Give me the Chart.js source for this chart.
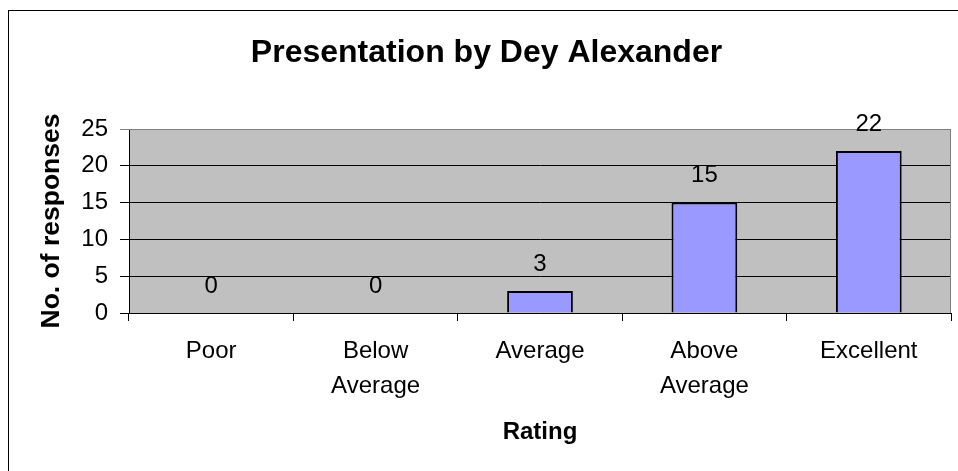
<!DOCTYPE html>
<html>
<head>
<meta charset="utf-8">
<script src="https://cdn.jsdelivr.net/npm/chart.js@4/dist/chart.umd.min.js"></script>
<style>
  html, body { margin: 0; padding: 0; background: #fff; overflow: hidden; }
  #wrap { position: relative; width: 958px; height: 471px; }
  #frame { position: absolute; left: 8px; top: 10px; width: 2000px; height: 2000px; border-left: 1px solid #000; border-top: 1px solid #000; }
  canvas { position: absolute; left: 0; top: 0; }
</style>
</head>
<body>
<div id="wrap">
  <div id="frame"></div>
  <canvas id="c" width="958" height="471"></canvas>
</div>
<script>
const titleText = 'Presentation by Dey Alexander';
const categories = ['Poor', ['Below', 'Average'], 'Average', ['Above', 'Average'], 'Excellent'];
const responses = [0, 0, 3, 15, 22];
const yTicks = [0, 5, 10, 15, 20, 25];
const xTitle = 'Rating';
const yTitle = 'No. of responses';

const FONT = "'Liberation Sans', Arial, Helvetica, sans-serif";

const plotBg = {
  id: 'plotBg',
  beforeDraw(chart) {
    const {ctx, chartArea: a} = chart;
    ctx.save();
    ctx.fillStyle = '#C0C0C0';
    ctx.fillRect(a.left, a.top, a.right - a.left, a.bottom - a.top);
    ctx.restore();
  },
  afterDatasetsDraw(chart) {
    const {ctx, chartArea: a} = chart;
    ctx.save();
    ctx.strokeStyle = '#808080';
    ctx.lineWidth = 1;
    ctx.beginPath();
    ctx.moveTo(a.left, a.top + 0.5);
    ctx.lineTo(a.right - 0.5, a.top + 0.5);
    ctx.lineTo(a.right - 0.5, a.bottom);
    ctx.stroke();
    // value labels
    const meta = chart.getDatasetMeta(0);
    ctx.fillStyle = '#000';
    ctx.font = '24px ' + FONT;
    ctx.textAlign = 'center';
    ctx.textBaseline = 'middle';
    meta.data.forEach((bar, i) => {
      ctx.fillText(String(responses[i]), bar.x, bar.y - 27);
    });
    ctx.restore();
  }
};

new Chart(document.getElementById('c'), {
  type: 'bar',
  data: {
    labels: categories,
    datasets: [{
      data: responses,
      backgroundColor: '#9999FF',
      borderColor: '#000000',
      borderWidth: 2,
      categoryPercentage: 1.0,
      barPercentage: 0.4
    }]
  },
  options: {
    responsive: false,
    animation: false,
    events: [],
    layout: { padding: { left: 22, right: 7, top: 0, bottom: 0 } },
    plugins: {
      legend: { display: false },
      tooltip: { enabled: false },
      title: {
        display: true,
        text: titleText,
        color: '#000',
        font: { family: FONT, size: 32, weight: 'bold', lineHeight: 1.2 },
        padding: { top: 34, bottom: 56.6 }
      }
    },
    scales: {
      x: {
        offset: true,
        grid: { offset: true, drawOnChartArea: false, drawTicks: true, tickLength: 8, color: '#000', lineWidth: 1 },
        border: { display: true, color: '#000', width: 1 },
        ticks: { color: '#000', font: { family: FONT, size: 24, lineHeight: 1.45 }, padding: 13, maxRotation: 0, autoSkip: false },
        title: { display: true, text: xTitle, color: '#000', font: { family: FONT, size: 24, weight: 'bold', lineHeight: 1.2 }, padding: { top: 0, bottom: 24 } },
        afterFit(scale) { scale.height = 158; }
      },
      y: {
        min: 0,
        max: 25,
        afterBuildTicks(scale) { scale.ticks = yTicks.map(v => ({ value: v })); },
        grid: {
          color: ctx => (ctx.tick && ctx.tick.value === 25 ? '#808080' : '#000'),
          lineWidth: 1,
          drawTicks: true,
          tickLength: 9
        },
        border: { display: true, color: '#000', width: 1 },
        ticks: { color: '#000', font: { family: FONT, size: 24 }, padding: 12 },
        title: { display: true, text: yTitle, color: '#000', font: { family: FONT, size: 26.5, weight: 'bold', lineHeight: 1.2 }, padding: { top: 14, bottom: 0 } },
        afterFit(scale) { scale.width = 107; }
      }
    }
  },
  plugins: [plotBg]
});
</script>
</body>
</html>
